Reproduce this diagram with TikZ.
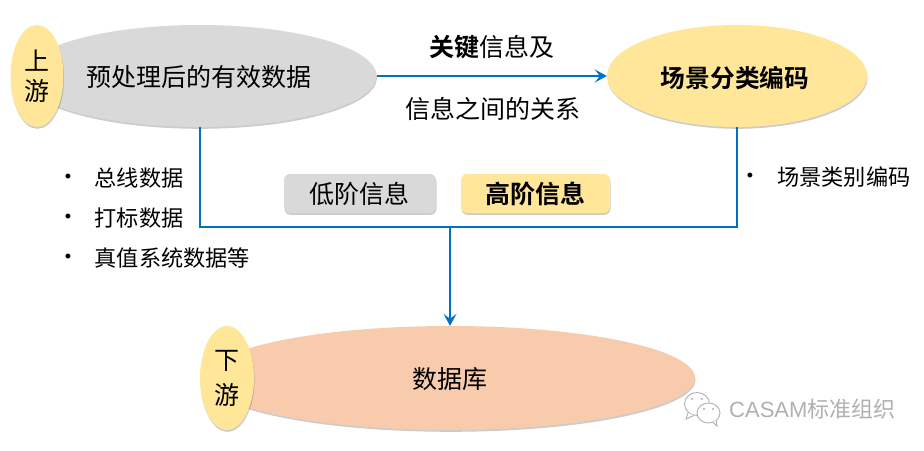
\documentclass[tikz,border=0pt]{standalone}
\usepackage{fontspec}
\setmainfont{Liberation Sans}
\newfontfamily\cjk{Noto Sans CJK SC}[BoldFont={Noto Sans CJK SC Bold}]
\usetikzlibrary{shapes.geometric,arrows.meta,shadows,calc}
\definecolor{flowblue}{HTML}{0070C0}
\definecolor{softgray}{HTML}{D9D9D9}
\definecolor{softyellow}{HTML}{FFE699}
\definecolor{softpink}{HTML}{F8CBAD}
\definecolor{markgray}{HTML}{B0B0B0}
\tikzset{
  softshadow/.style={drop shadow={shadow xshift=0.5pt,shadow yshift=-1.8pt,opacity=.2,fill=black}},
  oval/.style={ellipse,inner sep=0pt,align=center,text=black,font=\cjk\fontsize{25}{30}\selectfont},
  tag/.style={rounded corners=6pt,inner sep=0pt,minimum height=39pt,text=black,font=\cjk\fontsize{25}{30}\selectfont},
  caption/.style={inner sep=0pt,text=black,font=\cjk\fontsize{25}{30}\selectfont},
  listitem/.style={inner sep=0pt,anchor=west,text=black,font=\cjk\fontsize{22.2}{26}\selectfont},
  bulletmark/.style={inner sep=0pt,text=black,font=\fontsize{18}{20}\selectfont},
  flow/.style={draw=flowblue,line width=2pt},
  flowtip/.style={-{Stealth[length=12pt,width=13pt,inset=5pt]}},
  markline/.style={draw=markgray,line width=0.9pt,fill=white},
}
\begin{document}
\begin{tikzpicture}[x=1pt,y=-1pt]
\useasboundingbox (0,0) rectangle (924,450);

% upstream data ellipse with its side badge
\node[oval,softshadow,fill=softgray,minimum width=354pt,minimum height=102pt] (source) at (199.5,76) {};
\node[caption] (sourcetext) at (198.5,77) {预处理后的有效数据};
\node[oval,softshadow,fill=softyellow,minimum width=53pt,minimum height=102pt,font=\cjk\fontsize{25}{30}\selectfont] (upbadge) at (37,76) {上\\游};

% scene coding ellipse
\node[oval,softshadow,fill=softyellow,minimum width=260pt,minimum height=102pt] (scene) at (737,76) {};
\node[caption,font=\cjk\bfseries\fontsize{24.7}{30}\selectfont] (scenetext) at (735,78) {场景分类编码};

% database ellipse with its side badge
\node[oval,softshadow,fill=softpink,minimum width=490pt,minimum height=104pt] (database) at (450,378) {};
\node[caption] (databasetext) at (450,379.5) {数据库};
\node[oval,softshadow,fill=softyellow,minimum width=54pt,minimum height=104pt,font=\cjk\fontsize{25}{35}\selectfont] (downbadge) at (227,378) {下\\游};

% connectors
\coordinate (merge) at (450,226.5);
\draw[flow,flowtip] (source.east) -- (scene.west);
\draw[flow] (source.south) |- (merge);
\draw[flow] (scene.south) |- (merge);
\draw[flow,flowtip] (merge) -- (database.north);

% labels of the top arrow
\node[caption] (keyinfo) at (492,47.5) {\cjk\textbf{关键}信息及};
\node[caption] (relation) at (492.5,108.5) {信息之间的关系};

% information level tags
\node[tag,softshadow,fill=softgray,minimum width=152pt] (lowtag) at (360,193.5) {};
\node[caption] (lowtext) at (359.5,193.5) {低阶信息};
\node[tag,softshadow,fill=softyellow,minimum width=149pt,font=\cjk\bfseries\fontsize{25}{30}\selectfont] (hightag) at (535.5,193.5) {高阶信息};

% left list
\node[bulletmark] (bulleta) at (68,178) {•};
\node[bulletmark] (bulletb) at (68,218) {•};
\node[bulletmark] (bulletc) at (68,258) {•};
\node[listitem] (itema) at (94.5,178) {总线数据};
\node[listitem] (itemb) at (94.5,218) {打标数据};
\node[listitem] (itemc) at (94.5,258) {真值系统数据等};

% right list
\node[bulletmark] (bulletd) at (750,177) {•};
\node[listitem] (itemd) at (777,177) {场景类别编码};

% messenger emblem and account name
\draw[markline] (697,404) ellipse (12.5 and 11.5);
\draw[markline] (688,413) -- (686,419) -- (694,415.5);
\fill[markgray] (692,399) circle (1.2) (702,399) circle (1.2);
\draw[markline] (708.5,413) ellipse (11.5 and 10);
\draw[markline] (713,422.5) -- (717,426) -- (716,420);
\fill[markgray] (704,409) circle (1.2) (713,409) circle (1.2);
\node[inner sep=0pt,anchor=west,text=markgray,font=\fontsize{22}{26}\selectfont] (account) at (729,409) {CASAM{\cjk 标准组织}};
\end{tikzpicture}
\end{document}
